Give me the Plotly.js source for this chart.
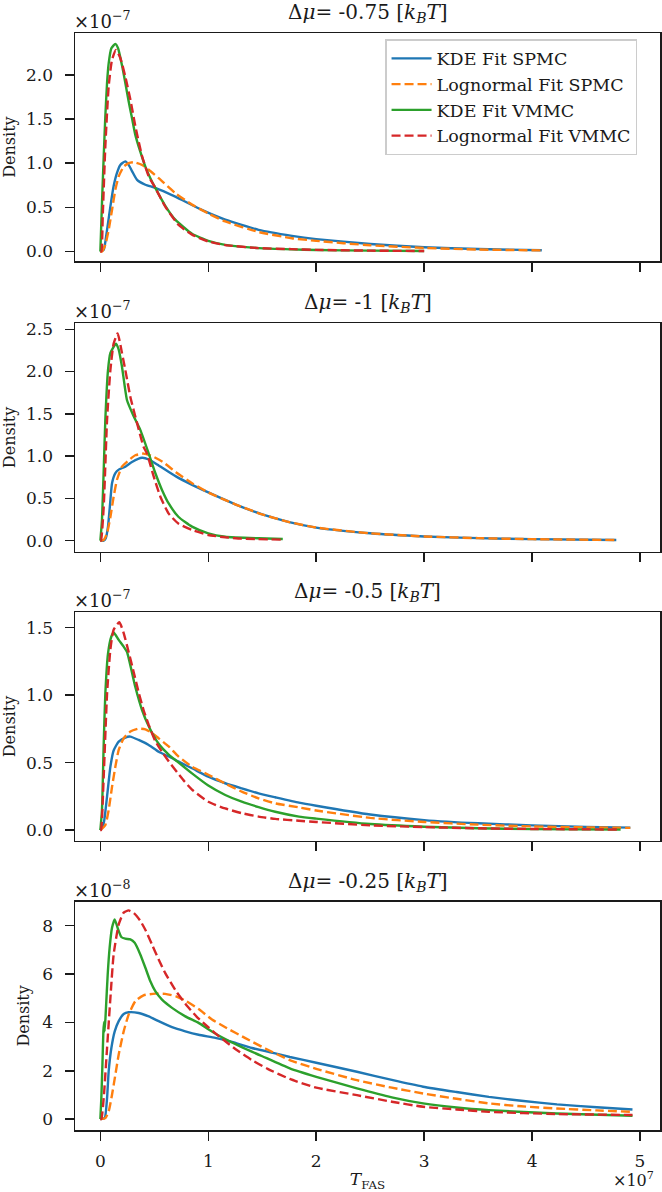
<!DOCTYPE html>
<html><head><meta charset="utf-8">
<script src="https://cdn.plot.ly/plotly-3.0.1.min.js"></script>
<style>html,body{margin:0;padding:0;background:#fff}#chart{width:662px;height:1192px}</style>
</head><body><div id="chart"></div>
<script>
// x in units of 1e7 (T_FAS); densities in units of 1e-7 (panels 1-3) and 1e-8 (panel 4)
const seriesNames = ['KDE Fit SPMC', 'Lognormal Fit SPMC', 'KDE Fit VMMC', 'Lognormal Fit VMMC'];
const panelMu = ['-0.75', '-1', '-0.5', '-0.25'];
const panelExp = ['−7', '−7', '−7', '−8'];
const xTicks = [0, 1, 2, 3, 4, 5];

// Panel 1: Δμ = -0.75
const p1_kdeSpmc_x = [0, 0.031, 0.062, 0.093, 0.123, 0.154, 0.185, 0.231, 0.262, 0.293, 0.34, 0.417, 0.509, 0.694, 0.94, 1.157, 1.466, 1.775, 2.0, 2.5, 3.0, 3.5, 4.09];
const p1_kdeSpmc_y = [0, 0.02, 0.245, 0.51, 0.74, 0.89, 0.98, 1.02, 0.98, 0.91, 0.81, 0.755, 0.72, 0.62, 0.47, 0.36, 0.245, 0.177, 0.14, 0.085, 0.048, 0.027, 0.013];
const p1_logSpmc_x = [0, 0.015, 0.046, 0.077, 0.108, 0.139, 0.17, 0.216, 0.262, 0.309, 0.386, 0.448, 0.54, 0.694, 0.849, 1.0, 1.157, 1.466, 1.775, 2.0, 2.5, 3.0, 3.5, 4.09];
const p1_logSpmc_y = [0, 0, 0.075, 0.245, 0.47, 0.70, 0.85, 0.96, 1.0, 1.01, 0.98, 0.925, 0.83, 0.66, 0.53, 0.43, 0.34, 0.22, 0.15, 0.12, 0.07, 0.04, 0.022, 0.012];
const p1_kdeVmmc_x = [0, 0.015, 0.031, 0.046, 0.062, 0.077, 0.102, 0.139, 0.164, 0.2, 0.231, 0.262, 0.293, 0.324, 0.37, 0.417, 0.463, 0.509, 0.6, 0.694, 0.849, 1.0, 1.157, 1.47, 1.77, 2.0, 2.5, 3.0];
const p1_kdeVmmc_y = [0, 0.547, 1.075, 1.53, 1.91, 2.13, 2.30, 2.35, 2.30, 2.11, 1.91, 1.70, 1.51, 1.32, 1.13, 0.96, 0.83, 0.72, 0.52, 0.36, 0.2, 0.12, 0.075, 0.038, 0.024, 0.017, 0.009, 0.005];
const p1_logVmmc_x = [0, 0.009, 0.022, 0.046, 0.077, 0.108, 0.145, 0.185, 0.231, 0.278, 0.324, 0.386, 0.448, 0.509, 0.6, 0.725, 0.849, 1.0, 1.157, 1.466, 1.775, 2.0, 2.5, 3.0];
const p1_logVmmc_y = [0, 0, 0.40, 1.19, 1.87, 2.17, 2.28, 2.19, 1.98, 1.72, 1.42, 1.08, 0.85, 0.72, 0.51, 0.30, 0.19, 0.113, 0.072, 0.038, 0.026, 0.018, 0.009, 0.005];

// Panel 2: Δμ = -1
const p2_kdeSpmc_x = [0, 0.03, 0.05, 0.071, 0.093, 0.108, 0.139, 0.17, 0.231, 0.293, 0.386, 0.45, 0.54, 0.7, 0.85, 1.0, 1.25, 1.5, 1.75, 2.0, 2.5, 3.0, 3.5, 4.0, 4.78];
const p2_kdeSpmc_y = [0, 0, 0.03, 0.17, 0.48, 0.68, 0.80, 0.84, 0.875, 0.93, 0.98, 0.96, 0.89, 0.76, 0.66, 0.57, 0.43, 0.31, 0.22, 0.155, 0.087, 0.05, 0.03, 0.018, 0.008];
const p2_logSpmc_x = [0, 0.031, 0.062, 0.093, 0.123, 0.154, 0.2, 0.262, 0.324, 0.40, 0.48, 0.58, 0.7, 0.85, 1.0, 1.25, 1.5, 1.75, 2.0, 2.5, 3.0, 3.5, 4.0, 4.78];
const p2_logSpmc_y = [0, 0.008, 0.087, 0.28, 0.52, 0.72, 0.875, 0.95, 1.01, 1.03, 1.0, 0.93, 0.81, 0.68, 0.57, 0.43, 0.31, 0.22, 0.155, 0.087, 0.05, 0.03, 0.018, 0.008];
const p2_kdeVmmc_x = [0, 0.015, 0.031, 0.046, 0.071, 0.093, 0.145, 0.17, 0.2, 0.247, 0.309, 0.37, 0.448, 0.509, 0.571, 0.633, 0.725, 0.849, 1.0, 1.157, 1.466, 1.69];
const p2_kdeVmmc_y = [0, 0.244, 0.836, 1.43, 2.02, 2.22, 2.33, 2.26, 2.06, 1.66, 1.47, 1.31, 1.03, 0.80, 0.60, 0.44, 0.28, 0.166, 0.087, 0.047, 0.028, 0.02];
const p2_logVmmc_x = [0, 0.006, 0.031, 0.062, 0.093, 0.123, 0.16, 0.2, 0.231, 0.278, 0.34, 0.40, 0.432, 0.494, 0.556, 0.633, 0.725, 0.849, 1.0, 1.157, 1.31, 1.69];
const p2_logVmmc_y = [0, 0, 0.40, 1.43, 2.02, 2.33, 2.45, 2.22, 2.02, 1.70, 1.39, 1.11, 1.03, 0.76, 0.52, 0.32, 0.20, 0.126, 0.067, 0.04, 0.024, 0.012];

// Panel 3: Δμ = -0.5
const p3_kdeSpmc_x = [0, 0.031, 0.062, 0.093, 0.123, 0.17, 0.231, 0.278, 0.355, 0.448, 0.54, 0.633, 0.725, 0.849, 1.0, 1.157, 1.31, 1.466, 1.62, 1.84, 2.0, 2.5, 3.0, 3.5, 4.0, 4.5, 4.91];
const p3_kdeSpmc_y = [0, 0.05, 0.25, 0.47, 0.59, 0.656, 0.686, 0.693, 0.668, 0.631, 0.58, 0.545, 0.507, 0.458, 0.396, 0.347, 0.309, 0.272, 0.243, 0.203, 0.18, 0.115, 0.074, 0.05, 0.035, 0.024, 0.018];
const p3_logSpmc_x = [0, 0.046, 0.077, 0.108, 0.139, 0.17, 0.216, 0.278, 0.355, 0.417, 0.478, 0.54, 0.633, 0.725, 0.849, 1.0, 1.157, 1.31, 1.466, 1.62, 1.84, 2.0, 2.5, 3.0, 3.5, 4.0, 4.5, 4.91];
const p3_logSpmc_y = [0, 0.037, 0.149, 0.32, 0.47, 0.594, 0.68, 0.73, 0.752, 0.747, 0.72, 0.68, 0.62, 0.545, 0.47, 0.41, 0.345, 0.285, 0.235, 0.198, 0.168, 0.145, 0.09, 0.06, 0.04, 0.027, 0.02, 0.016];
const p3_kdeVmmc_x = [0, 0.015, 0.031, 0.046, 0.071, 0.102, 0.123, 0.17, 0.216, 0.247, 0.324, 0.386, 0.448, 0.54, 0.633, 0.71, 0.849, 1.0, 1.157, 1.31, 1.466, 1.62, 1.84, 2.0, 2.5, 3.0, 3.5, 4.0, 4.82];
const p3_kdeVmmc_y = [0, 0.149, 0.64, 1.01, 1.31, 1.435, 1.465, 1.41, 1.36, 1.32, 1.06, 0.89, 0.77, 0.64, 0.56, 0.51, 0.42, 0.33, 0.26, 0.21, 0.17, 0.136, 0.10, 0.085, 0.045, 0.025, 0.013, 0.007, 0.003];
const p3_logVmmc_x = [0, 0.006, 0.031, 0.062, 0.093, 0.123, 0.176, 0.216, 0.262, 0.309, 0.355, 0.40, 0.448, 0.509, 0.571, 0.633, 0.71, 0.78, 0.849, 1.0, 1.157, 1.31, 1.466, 1.62, 1.84, 2.0, 2.5, 3.0, 3.5, 4.0, 4.8];
const p3_logVmmc_y = [0, 0, 0.40, 1.01, 1.34, 1.485, 1.54, 1.46, 1.32, 1.17, 1.02, 0.89, 0.78, 0.66, 0.58, 0.51, 0.43, 0.36, 0.30, 0.21, 0.16, 0.125, 0.10, 0.083, 0.069, 0.06, 0.035, 0.022, 0.013, 0.008, 0.004];

// Panel 4: Δμ = -0.25 (units of 1e-8)
const p4_kdeSpmc_x = [0, 0.04, 0.062, 0.077, 0.102, 0.133, 0.17, 0.216, 0.262, 0.355, 0.448, 0.54, 0.664, 0.787, 0.91, 1.065, 1.219, 1.404, 1.62, 1.755, 2.0, 2.377, 2.7, 2.99, 3.3, 3.6, 3.9, 4.23, 4.6, 4.93];
const p4_kdeSpmc_y = [0, 0.04, 0.87, 1.98, 2.94, 3.63, 4.05, 4.35, 4.42, 4.39, 4.25, 4.05, 3.80, 3.63, 3.49, 3.36, 3.19, 2.94, 2.72, 2.57, 2.33, 1.96, 1.62, 1.34, 1.12, 0.92, 0.76, 0.61, 0.49, 0.40];
const p4_logSpmc_x = [0, 0.046, 0.077, 0.108, 0.139, 0.17, 0.216, 0.262, 0.324, 0.40, 0.509, 0.6, 0.7, 0.787, 0.91, 1.034, 1.157, 1.343, 1.528, 1.755, 2.0, 2.377, 2.7, 2.99, 3.3, 3.6, 3.9, 4.23, 4.6, 4.93];
const p4_logSpmc_y = [0, 0.04, 0.32, 1.01, 1.84, 2.67, 3.63, 4.32, 4.88, 5.12, 5.19, 5.18, 5.08, 4.9, 4.55, 4.12, 3.8, 3.35, 2.92, 2.44, 2.08, 1.61, 1.3, 1.06, 0.84, 0.65, 0.53, 0.44, 0.36, 0.30];
const p4_kdeVmmc_x = [0, 0.009, 0.019, 0.028, 0.034, 0.04, 0.052, 0.068, 0.086, 0.108, 0.133, 0.164, 0.194, 0.231, 0.278, 0.318, 0.37, 0.417, 0.463, 0.509, 0.571, 0.664, 0.787, 0.91, 1.0, 1.1, 1.3, 1.5, 1.755, 2.0, 2.377, 2.7, 2.99, 3.3, 3.6, 4.23, 4.93];
const p4_kdeVmmc_y = [0, 0.87, 2.25, 3.63, 4.02, 3.63, 4.6, 5.98, 7.09, 7.91, 8.26, 7.85, 7.53, 7.46, 7.43, 7.29, 6.81, 6.26, 5.7, 5.29, 4.94, 4.6, 4.25, 3.98, 3.72, 3.45, 3.0, 2.6, 2.10, 1.75, 1.27, 0.9, 0.65, 0.48, 0.37, 0.23, 0.14];
const p4_logVmmc_x = [0, 0.009, 0.031, 0.062, 0.093, 0.123, 0.17, 0.216, 0.262, 0.31, 0.37, 0.42, 0.48, 0.54, 0.6, 0.7, 0.8, 0.9, 1.0, 1.1, 1.25, 1.4, 1.55, 1.755, 2.0, 2.377, 2.7, 2.99, 3.3, 3.6, 4.23, 4.93];
const p4_logVmmc_y = [0, 0, 0.87, 2.94, 5.01, 6.81, 8.05, 8.54, 8.63, 8.52, 8.2, 7.8, 7.2, 6.6, 6.05, 5.3, 4.7, 4.2, 3.8, 3.42, 2.9, 2.45, 2.08, 1.66, 1.3, 0.99, 0.72, 0.51, 0.4, 0.30, 0.21, 0.17];

const panels = [
  [[p1_kdeSpmc_x, p1_kdeSpmc_y], [p1_logSpmc_x, p1_logSpmc_y], [p1_kdeVmmc_x, p1_kdeVmmc_y], [p1_logVmmc_x, p1_logVmmc_y]],
  [[p2_kdeSpmc_x, p2_kdeSpmc_y], [p2_logSpmc_x, p2_logSpmc_y], [p2_kdeVmmc_x, p2_kdeVmmc_y], [p2_logVmmc_x, p2_logVmmc_y]],
  [[p3_kdeSpmc_x, p3_kdeSpmc_y], [p3_logSpmc_x, p3_logSpmc_y], [p3_kdeVmmc_x, p3_kdeVmmc_y], [p3_logVmmc_x, p3_logVmmc_y]],
  [[p4_kdeSpmc_x, p4_kdeSpmc_y], [p4_logSpmc_x, p4_logSpmc_y], [p4_kdeVmmc_x, p4_kdeVmmc_y], [p4_logVmmc_x, p4_logVmmc_y]]
];

// styling
const colors = ['#1f77b4', '#ff7f0e', '#2ca02c', '#d62728'];
const dashes = ['solid', '9px,4px', 'solid', '9px,4px'];
const yRanges = [[-0.11, 2.473], [-0.13, 2.571], [-0.079, 1.614], [-0.45, 8.99]];
const yDticks = [0.5, 0.5, 0.5, 2];
const yFormats = ['.1f', '.1f', '.1f', 'd'];
const domains = [[0.792, 1.0], [0.5272, 0.7354], [0.2637, 0.4719], [0, 0.2081]];
const FONT = 'DejaVu Serif, Liberation Serif, serif';
const INK = '#1a1a1a';

const traces = [];
panels.forEach((series, p) => {
  series.forEach((s, k) => {
    traces.push({
      type: 'scatter', mode: 'lines',
      x: s[0], y: s[1],
      name: seriesNames[k],
      showlegend: p === 0,
      xaxis: 'x' + (p + 1), yaxis: 'y' + (p + 1),
      line: {color: colors[k], width: 2.4, dash: dashes[k], shape: 'spline', smoothing: 0.5},
      hoverinfo: 'skip'
    });
  });
});

const layout = {
  width: 662, height: 1192,
  margin: {l: 75, r: 2, t: 33, b: 62},
  paper_bgcolor: '#fff', plot_bgcolor: '#fff',
  font: {family: FONT, size: 17, color: INK},
  showlegend: true,
  legend: {
    x: 0.53, y: 0.9945, xanchor: 'left', yanchor: 'top',
    xref: 'paper', yref: 'paper',
    font: {family: FONT, size: 17.5, color: INK},
    bgcolor: 'rgba(255,255,255,0.85)', bordercolor: '#cccccc', borderwidth: 1.5,
    itemwidth: 40, tracegroupgap: 0
  },
  annotations: []
};

for (let p = 0; p < 4; p++) {
  const n = p + 1;
  const xa = {
    domain: [0, 1], anchor: 'y' + n,
    range: [-0.235, 5.185],
    tickvals: xTicks, ticktext: xTicks.map(String),
    showticklabels: p === 3,
    ticks: 'outside', ticklen: 9, tickwidth: 1.5, tickcolor: INK,
    showline: true, linecolor: INK, linewidth: 1.5, mirror: true,
    showgrid: false, zeroline: false,
    tickfont: {family: FONT, size: 17, color: INK},
    ticklabelstandoff: 6
  };
  if (p > 0) xa.matches = 'x';
  if (p === 3) {
    xa.title = {text: '<i>T</i><sub>FAS</sub>', font: {family: FONT, size: 17, color: INK}, standoff: 5};
  }
  const ya = {
    domain: domains[p], anchor: 'x' + n,
    range: yRanges[p], dtick: yDticks[p], tick0: 0, tickformat: yFormats[p],
    ticks: 'outside', ticklen: 9, tickwidth: 1.5, tickcolor: INK,
    showline: true, linecolor: INK, linewidth: 1.5, mirror: true,
    showgrid: false, zeroline: false,
    tickfont: {family: FONT, size: 17, color: INK},
    ticklabelstandoff: 8,
    title: {text: 'Density', font: {family: FONT, size: 16, color: INK}, standoff: 8}
  };
  layout['xaxis' + (p === 0 ? '' : n)] = xa;
  layout['yaxis' + (p === 0 ? '' : n)] = ya;

  layout.annotations.push({
    xref: 'x' + n + ' domain', yref: 'y' + n + ' domain', x: 0.5, y: 1,
    xanchor: 'center', yanchor: 'bottom', yshift: 5, showarrow: false,
    text: 'Δ<i>μ</i>= ' + panelMu[p] + ' [<i>k</i><sub><i>B</i></sub><i>T</i>]',
    font: {family: FONT, size: 20, color: INK}
  });
  layout.annotations.push({
    xref: 'x' + n + ' domain', yref: 'y' + n + ' domain', x: 0, y: 1,
    xanchor: 'left', yanchor: 'bottom', yshift: -1, xshift: -3, showarrow: false,
    text: '×10<sup>' + panelExp[p] + '</sup>',
    font: {family: FONT, size: 18, color: INK}
  });
}
layout.annotations.push({
  xref: 'x4 domain', yref: 'y4 domain', x: 1, y: 0,
  xanchor: 'right', yanchor: 'top', yshift: -37, xshift: -4, showarrow: false,
  text: '×10<sup>7</sup>',
  font: {family: FONT, size: 16, color: INK}
});

Plotly.newPlot('chart', traces, layout, {displayModeBar: false, staticPlot: true});
</script>
</body></html>
